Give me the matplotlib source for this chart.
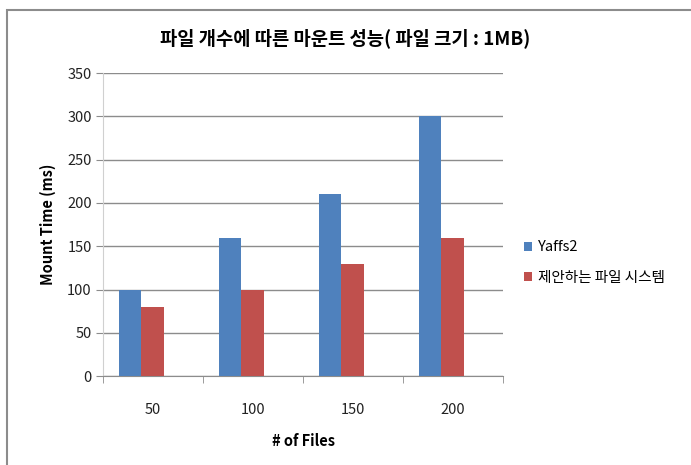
import numpy as np
import matplotlib
matplotlib.use("Agg")
import matplotlib.pyplot as plt
from matplotlib.patches import Rectangle

plt.rcParams['font.family'] = ['Noto Sans CJK KR', 'DejaVu Sans']

# data
files = ['50', '100', '150', '200']
yaffs2 = [100, 160, 210, 300]
proposed = [80, 100, 129, 160]
series_names = ['Yaffs2', '제안하는 파일 시스템']

blue = '#4F81BD'
red = '#C0504D'

fig = plt.figure(figsize=(6.91, 4.65), dpi=100)
ax = fig.add_axes([0.149, 0.191, 0.579, 0.652])

x = np.arange(len(files))
w = 0.225
ax.bar(x - 0.23, yaffs2, width=w, color=blue, label=series_names[0], zorder=3)
ax.bar(x - 0.005, proposed, width=w, color=red, label=series_names[1], zorder=3)

ax.set_xlim(-0.5, len(files) - 0.5)
ax.set_ylim(0, 350)
ax.set_yticks(np.arange(0, 351, 50))
ax.yaxis.grid(True, color='#8c8c8c', lw=1, zorder=0)
ax.set_axisbelow(True)

ax.set_xticks(x)
ax.set_xticklabels(files)
ax.set_xticks(np.arange(-0.5, len(files), 1), minor=True)
ax.tick_params(axis='x', which='major', length=0, pad=19, labelsize=10.5, labelcolor='#222222')
ax.tick_params(axis='x', which='minor', length=5, direction='out', color='#8c8c8c')
ax.tick_params(axis='y', length=5, color='#8c8c8c', pad=3, labelsize=10.5, labelcolor='#222222')

for s in ['top', 'right']:
    ax.spines[s].set_visible(False)
ax.spines['left'].set_color('#d0d0d0')
ax.spines['bottom'].set_color('#8c8c8c')

ax.set_ylabel('Mount Time (ms)', fontsize=10.5, fontweight='bold', labelpad=8)
ax.set_xlabel('# of Files', fontsize=10.5, fontweight='bold', labelpad=12)

fig.text(0.5, 0.918, '파일 개수에 따른 마운트 성능( 파일 크기 : 1MB)',
         ha='center', va='center', fontsize=13.5, fontweight='bold')

ax.legend(loc='center left', bbox_to_anchor=(1.02, 0.375), frameon=False,
          fontsize=10.5, handlelength=0.55, handleheight=0.55, handletextpad=0.4,
          labelspacing=1.1)

# outer chart frame
fig.patches.append(Rectangle((7 / 691, -0.1), 1.2, 0.1 + 1 - 10 / 465,
                             transform=fig.transFigure, fill=False,
                             edgecolor='#8c8c8c', lw=1.5))

fig.savefig('out.png', dpi=100)
